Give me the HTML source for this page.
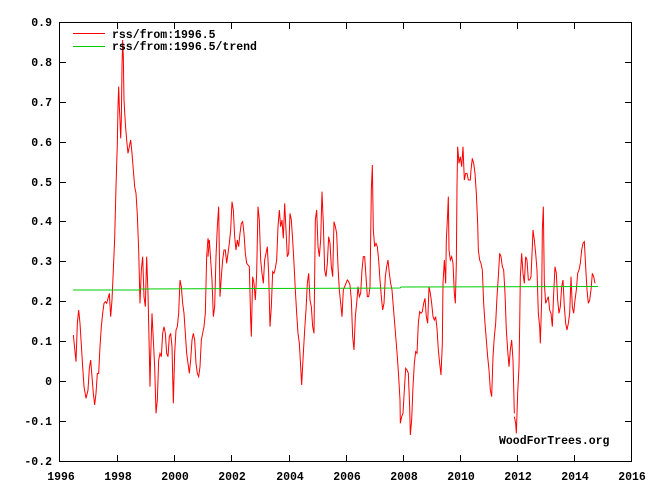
<!DOCTYPE html>
<html><head><meta charset="utf-8"><style>
html,body{margin:0;padding:0;background:#fff;}
svg{display:block;}
text{font-family:"Liberation Mono",monospace;font-weight:bold;font-size:11.5px;fill:#000;}
.r{fill:none;stroke:#f00;stroke-width:1;vector-effect:non-scaling-stroke;stroke-linejoin:miter;}
</style></head><body>
<svg width="649" height="488" viewBox="0 0 649 488" xmlns="http://www.w3.org/2000/svg">
<rect x="0" y="0" width="649" height="488" fill="#fff"/>
<g transform="translate(60,40) scale(0.33333)">
<polyline class="r" points="40,885 44,925 48,965 52,850 56,810 60,850 64,915 68,980 72,1040 78,1075 84,1050 88,985 92,960 96,1010 100,1060 104,1095 108,1060 112,1000 116,1000 120,920 124,860 128,820 132,790 136,785 140,790 144,775 148,760 152,830 156,780 160,690 164,595 168,440 172,310 174,200 176,140 178,200 180,240 182,295 184,240 186,80 188,0 190,50 192,180 196,250 200,300 204,340 208,320 212,300 216,340 220,390 224,440 228,460 232,525 236,630 240,790 244,690 248,650 252,770 256,800 260,650 264,760 268,940 270,1040 272,950 276,820 280,900 284,980 288,1120 292,1080 296,960 300,940 304,950 308,880 312,860 316,880 320,940 324,950 328,890 332,880 336,920 340,1090 344,940 348,870 352,860 356,820 360,720 364,740 368,790 372,820 376,880 380,940 384,970 388,1000 392,960 396,900 400,880 404,900 408,970 412,1000 416,1010 420,980 424,900 428,880 432,860 436,820 440,650 444,595 448,620"/>
</g>
<g transform="translate(200,150) scale(0.33333)">
<polyline class="r" points="24,320 28,270 32,330 36,390 40,500 44,470 48,320 52,230 56,170 60,440 64,380 68,330 72,300 76,300 80,340 84,310 88,280 92,240 96,155 100,180 104,260 108,300 112,270 116,290 120,250 124,220 128,215 132,250 136,310 140,340 144,345 148,350 152,510 154,560 158,380 162,400 166,450 170,370 174,170 178,210 182,330 186,370 190,400 194,330 198,310 202,290 206,370 210,530 214,470 218,365 222,370 226,355 230,330 234,230 238,180 242,230 246,210 250,265 254,160 258,240 262,320 266,310 270,190 274,210 278,270 282,340 286,420 290,490 294,550 298,580 302,650 305,705 310,610 314,540 318,480 322,400 326,370 330,450 334,470 338,530 342,550 346,210 350,180 354,290 358,320 362,270 366,125 370,220 374,360 378,380 382,340 386,260 390,280 394,350 398,380 402,215 406,230 410,250 414,350 418,420 422,460 426,500 430,420 434,410 438,400 442,390 446,395 450,405 454,450 458,560 462,600 466,500 470,460 474,410 478,440 482,430 486,360 490,320 494,320 498,380 502,440 506,440 510,410 514,120 517,45 520,240 524,290 528,280 532,290 536,330 540,390 544,440 548,480 552,460 556,380 560,350 564,330 568,370 572,400 576,420 580,470 584,520 588,570 592,620 596,680 600,750"/>
</g>
<g transform="translate(395,130) scale(0.33333)">
<polyline class="r" points="15,810 16,880 20,860 24,850 28,780 32,715 36,720 40,730 44,830 46,915 50,870 54,770 58,700 62,665 66,670 70,580 74,545 78,550 82,545 86,520 90,505 94,560 98,580 102,470 106,490 110,520 114,560 118,570 122,560 126,595 130,660 134,700 138,735 142,640 144,460 148,390 152,460 154,330 158,250 160,200 162,360 166,390 170,380 174,400 178,490 181,520 184,400 186,170 188,50 192,100 196,80 200,110 204,50 208,150 212,130 216,130 220,150 226,150 228,120 232,85 236,100 240,130 244,190 248,280 250,360 254,390 258,400 262,420 266,520 270,580 274,630 278,680 282,720 286,780 290,800 294,680 298,620 302,580 306,500 310,440 314,370 318,380 322,410 326,420 330,490 334,600 338,660 342,710 346,660 350,630 354,690 358,850"/>
</g>
<g transform="translate(505,200) scale(0.33333)">
<polyline class="r" points="28,650 32,670 34,700 38,580 42,500 44,380 46,230 50,160 54,220 58,250 62,170 66,180 70,240 74,240 78,230 82,140 84,90 88,120 92,160 96,210 100,340 104,380 106,430 110,300 112,90 115,20 118,250 122,310 126,300 130,290 134,330 138,340 142,380 146,280 150,200 154,220 158,300 162,340 166,320 170,260 174,240 178,320 182,370 186,390 190,370 194,340 198,230 202,320 206,340 210,300 214,270 218,220 222,210 226,190 230,150 234,130 238,125 242,200 246,270 250,310 254,300 258,270 262,220 266,230 270,250"/>
</g>
<polyline points="73,290 139,290 140,289 400,288 401,287 598,286.5" fill="none" stroke="#0c0" stroke-width="1"/>
<rect x="59.5" y="22.5" width="572" height="439" fill="none" stroke="#000" stroke-width="1"/>
<g stroke="#000" stroke-width="1">
<path d="M60,22.5h6M60,62.5h6M60,102.5h6M60,142.5h6M60,182.5h6M60,221.5h6M60,261.5h6M60,301.5h6M60,341.5h6M60,381.5h6M60,421.5h6M60,461.5h6"/>
<path d="M631,22.5h-6M631,62.5h-6M631,102.5h-6M631,142.5h-6M631,182.5h-6M631,221.5h-6M631,261.5h-6M631,301.5h-6M631,341.5h-6M631,381.5h-6M631,421.5h-6M631,461.5h-6"/>
<path d="M117.5,461v-6M174.5,461v-6M231.5,461v-6M289.5,461v-6M346.5,461v-6M403.5,461v-6M460.5,461v-6M517.5,461v-6M574.5,461v-6"/>
<path d="M117.5,23v6M174.5,23v6M231.5,23v6M289.5,23v6M346.5,23v6M403.5,23v6M460.5,23v6M517.5,23v6M574.5,23v6"/>
</g>
<g text-anchor="end">
<text x="52" y="26">0.9</text><text x="52" y="66">0.8</text><text x="52" y="106">0.7</text><text x="52" y="146">0.6</text><text x="52" y="186">0.5</text><text x="52" y="225">0.4</text><text x="52" y="265">0.3</text><text x="52" y="305">0.2</text><text x="52" y="345">0.1</text><text x="52" y="385">0</text><text x="52" y="425">-0.1</text><text x="52" y="465">-0.2</text>
</g>
<g text-anchor="middle">
<text x="61" y="480">1996</text><text x="118" y="480">1998</text><text x="175" y="480">2000</text><text x="232" y="480">2002</text><text x="290" y="480">2004</text><text x="347" y="480">2006</text><text x="404" y="480">2008</text><text x="461" y="480">2010</text><text x="518" y="480">2012</text><text x="575" y="480">2014</text><text x="632" y="480">2016</text>
</g>
<text x="499" y="444">WoodForTrees.org</text>
<line x1="73" y1="33.5" x2="105" y2="33.5" stroke="#f00" stroke-width="1"/>
<text x="112" y="38">rss/from:1996.5</text>
<line x1="73" y1="46.5" x2="105" y2="46.5" stroke="#0c0" stroke-width="1"/>
<text x="112" y="50">rss/from:1996.5/trend</text>
</svg>
</body></html>
